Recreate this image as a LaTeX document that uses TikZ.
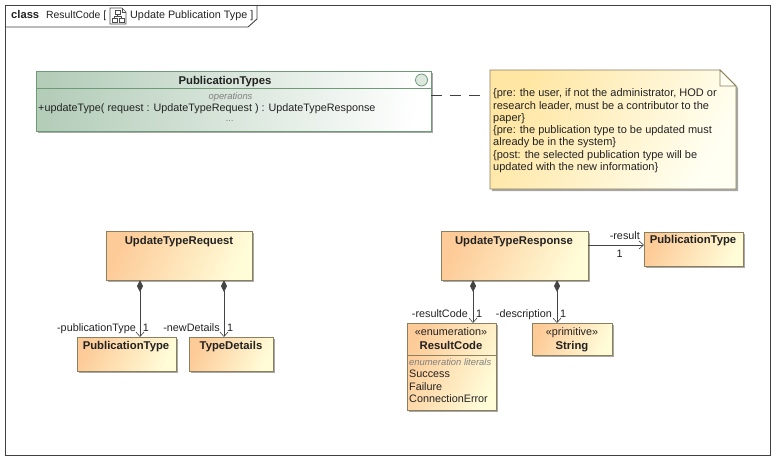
\documentclass[tikz,border=0pt]{standalone}
\usepackage{fontspec}
\setmainfont{Liberation Sans}
\usetikzlibrary{arrows.meta,shadows,calc}
\definecolor{bord}{HTML}{8C7F5E}
\definecolor{orgA}{HTML}{FDCB98}
\definecolor{orgB}{HTML}{FFFCD8}
\definecolor{grnA}{HTML}{B4CDB9}
\definecolor{grnB}{HTML}{FFFFFF}
\definecolor{grnL}{HTML}{6E9A78}
\definecolor{noteA}{HTML}{FFE6A2}
\definecolor{noteB}{HTML}{FFFFF2}
\definecolor{ink}{HTML}{222222}
\definecolor{lnk}{HTML}{444444}
\tikzset{
  softshadow/.style={drop shadow={shadow xshift=2pt,shadow yshift=-2pt,fill=black!45,opacity=.75}},
  umlbox/.style={draw=bord,line width=.9pt,inner sep=0pt,outer sep=0pt,softshadow,
    left color=orgA,right color=orgB,shading angle=65},
  pubbox/.style={draw=grnL,line width=.9pt,inner sep=0pt,outer sep=0pt,softshadow,
    left color=grnA,right color=grnB,shading angle=85},
  tx/.style={font=\fontsize{10.8}{12}\selectfont,text=ink,inner sep=0pt,anchor=base},
  txl/.style={tx,anchor=base west},
  bold/.style={tx,font=\fontsize{11.3}{12}\selectfont\bfseries},
  greyit/.style={inner sep=0pt,font=\fontsize{9.4}{11}\selectfont\itshape,text=black!50},
  assoc/.style={draw=lnk,line width=.9pt,-{Straight Barb[length=4.5pt,width=8pt,line width=.6pt]}},
  comp/.style={draw=lnk,line width=.9pt,{Diamond[length=12pt,width=6pt,fill=lnk]}-{Straight Barb[length=4.5pt,width=8pt,line width=.6pt]}},
}
\begin{document}
\begin{tikzpicture}[x=1pt,y=-1pt]
\useasboundingbox (0,0) rectangle (781,464);
\fill[white] (0,0) rectangle (781,464);
% frame
\draw[black!75,line width=.9pt] (5.5,5) rectangle (770,455);
\draw[black!75,line width=.9pt] (5.5,27) -- (248,27) -- (257,19) -- (257,5);
\node[tx,anchor=base west,font=\fontsize{11.2}{12}\selectfont\bfseries] (kind) at (11,18) {class};
\node[txl,font=\fontsize{10.4}{12}\selectfont] (ftitle) at (46,18) {ResultCode [};
\node[txl] (ftitle2) at (130,18) {Update Publication Type ]};
% diagram icon
\draw[black!70,line width=.6pt] (110,8) -- (122,8) -- (126,12) -- (126,24) -- (110,24) -- cycle;
\draw[black!70,line width=.6pt] (122,8) -- (122,12) -- (126,12);
\draw[black!70,line width=.6pt] (115,10.5) rectangle (120,14.5);
\draw[black!70,line width=.6pt] (112,18) rectangle (117,22);
\draw[black!70,line width=.6pt] (119,18) rectangle (124,22);
\draw[black!70,line width=.6pt] (117.5,14.5) -- (117.5,16.5) -- (114.5,16.5) -- (114.5,18);
\draw[black!70,line width=.6pt] (117.5,16.5) -- (121.5,16.5) -- (121.5,18);

% PublicationTypes
\node[pubbox,minimum width=395pt,minimum height=60pt] (pub) at (233.5,101) {};
\draw[grnL,line width=.9pt] (36,88.5) -- (431,88.5);
\draw[grnL,line width=.8pt,fill=grnA!45] (421.5,80) circle (6);
\node[bold] (pubname) at (225,84) {PublicationTypes};
\node[greyit,anchor=base] (pubops) at (230.5,99.5) {operations};
\node[txl] (pubop) at (38,111) {+updateType( request : UpdateTypeRequest ) : UpdateTypeResponse};
\node[greyit,anchor=base] (pubdots) at (230,121) {...};

% note
\path[draw=bord,line width=.9pt,softshadow,left color=noteA,right color=noteB,shading angle=60]
  (490,70) -- (720,70) -- (736,86) -- (736,189) -- (490,189) -- cycle;
\draw[bord,line width=.8pt,fill=noteB] (720,70) -- (720,86) -- (736,86) -- cycle;
\node[inner sep=0pt,outer sep=0pt,minimum width=246pt,minimum height=119pt] (note) at (613,129.5) {};
\node[tx,font=\fontsize{11}{12.25}\selectfont,align=left,anchor=north west] (notetext) at (493,88.6) {\{pre: the user, if not the administrator, HOD or\\research leader, must be a contributor to the\\paper\}\\\{pre: the publication type to be updated must\\already be in the system\}\\\{post: the selected publication type will be\\updated with the new information\}};
\draw[black!75,line width=.9pt,dash pattern=on 11pt off 8pt,shorten >=9pt] ([yshift=6pt]pub.east) -- ([yshift=34.5pt]note.west);

% left group
\node[umlbox,minimum width=146pt,minimum height=49pt] (req) at (179,255.5) {};
\node[bold] at (179,244) {UpdateTypeRequest};
\node[umlbox,minimum width=99pt,minimum height=34pt] (pt1) at (126.5,354) {};
\node[bold] at (126,349) {PublicationType};
\node[umlbox,minimum width=84pt,minimum height=34pt] (td) at (231,354) {};
\node[bold] at (231,349) {TypeDetails};
\draw[comp] ([xshift=-39pt]req.south) -- ([xshift=13.5pt]pt1.north);
\draw[comp] ([xshift=45pt]req.south) -- ([xshift=-7pt]td.north);
\node[tx,anchor=base east] (l1) at (136,331) {-publicationType};
\node[tx] (l1m) at (146,331) {1};
\node[tx,anchor=base east] (l2) at (220,331) {-newDetails};
\node[tx] (l2m) at (230,331) {1};

% right group
\node[umlbox,minimum width=147pt,minimum height=49pt] (resp) at (514.5,255.5) {};
\node[bold] at (514,244) {UpdateTypeResponse};
\node[umlbox,minimum width=89pt,minimum height=87pt] (rc) at (451.5,366.5) {};
\draw[bord,line width=.9pt] (407,355) -- (496,355);
\node[tx] at (451,335) {«enumeration»};
\node[bold] at (451,349) {ResultCode};
\node[greyit,anchor=base west] (rclit) at (409,365) {enumeration literals};
\node[txl] at (409,377.5) {Success};
\node[txl] at (409,390) {Failure};
\node[txl] at (409,402) {ConnectionError};
\node[umlbox,minimum width=80pt,minimum height=32pt] (str) at (572,339) {};
\node[tx] at (572,335) {«primitive»};
\node[bold] at (572,349) {String};
\node[umlbox,minimum width=99pt,minimum height=34pt] (pt2) at (693.5,249) {};
\node[bold] at (693,243) {PublicationType};
\draw[comp] ([xshift=-41.5pt]resp.south) -- ([xshift=21.5pt]rc.north);
\draw[comp] ([xshift=42.5pt]resp.south) -- ([xshift=-15pt]str.north);
\draw[assoc] ([yshift=10.5pt]resp.east) -- ([yshift=4pt]pt2.west);
\node[tx,anchor=base east] (l3) at (468,317) {-resultCode};
\node[tx] (l3m) at (479,317) {1};
\node[tx,anchor=base east] (l4) at (552,317) {-description};
\node[tx] (l4m) at (563,317) {1};
\node[tx,anchor=base east] (l5) at (640,239) {-result};
\node[tx] (l5m) at (619.5,257) {1};
\end{tikzpicture}
\end{document}
